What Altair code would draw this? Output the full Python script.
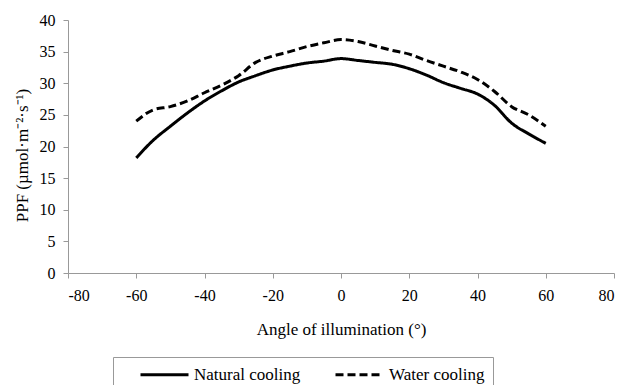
import altair as alt
import pandas as pd

angles = [-60, -55, -50, -45, -40, -35, -30, -25, -20, -15, -10, -5, 0,
          5, 10, 15, 20, 25, 30, 35, 40, 45, 50, 55, 60]
natural = [18.2, 21.0, 23.2, 25.3, 27.2, 28.8, 30.2, 31.2, 32.1, 32.7, 33.2, 33.5, 33.9,
           33.6, 33.3, 33.0, 32.3, 31.3, 30.1, 29.2, 28.3, 26.5, 23.7, 22.0, 20.5]
water = [24.0, 25.8, 26.3, 27.2, 28.5, 29.7, 31.2, 33.3, 34.3, 35.0, 35.8, 36.4, 36.9,
         36.6, 35.9, 35.2, 34.6, 33.6, 32.7, 31.8, 30.6, 28.7, 26.3, 25.0, 23.2]
series = ["Natural cooling", "Water cooling"]

rows = []
for a, n, w in zip(angles, natural, water):
    rows.append({"angle": a, "ppf": n, "series": series[0]})
    rows.append({"angle": a, "ppf": w, "series": series[1]})
df = pd.DataFrame(rows)

FONT = "Times New Roman, Liberation Serif, serif"
GRAY = "#999999"

chart = alt.Chart(df).mark_line(strokeWidth=3, interpolate="monotone", color="black").encode(
    x=alt.X("angle:Q",
            scale=alt.Scale(domain=[-80, 80], nice=False),
            axis=alt.Axis(values=list(range(-80, 81, 20)), title="Angle of illumination (°)",
                          labelExpr="'' + datum.value",
                          grid=False, domainColor=GRAY, tickColor=GRAY, tickSize=5,
                          labelPadding=9, titlePadding=18)),
    y=alt.Y("ppf:Q",
            scale=alt.Scale(domain=[0, 40], nice=False),
            axis=alt.Axis(values=list(range(0, 41, 5)), title="PPF (µmol·m⁻²·s⁻¹)",
                          labelExpr="'' + datum.value",
                          grid=False, domainColor=GRAY, tickColor=GRAY, tickSize=5,
                          labelPadding=8, titleX=-46, titleY=135, titleBaseline="middle")),
    strokeDash=alt.StrokeDash("series:N",
                              scale=alt.Scale(domain=series, range=[[1, 0], [8, 4]]),
                              legend=alt.Legend(title=None, orient="none", legendX=45, legendY=337,
                                                direction="horizontal", columns=2,
                                                symbolType="M-3,0H3", symbolSize=256,
                                                symbolStrokeWidth=3, symbolStrokeColor="black",
                                                symbolOffset=34, labelOffset=20, columnPadding=15,
                                                padding=8, strokeColor=GRAY,
                                                labelExpr="datum.label + '\u00a0\u00a0\u00a0\u00a0\u00a0'")),
).properties(
    width=546, height=253,
    autosize=alt.AutoSizeParams(type="none"),
    padding={"left": 68, "top": 20, "right": 12, "bottom": 112},
).configure_view(
    stroke=None
).configure_axis(
    labelFont=FONT, titleFont=FONT, labelFontSize=16, titleFontSize=17,
    labelColor="black", titleColor="black", titleFontWeight="normal",
).configure_legend(
    labelFont=FONT, labelFontSize=17, labelColor="black",
)

chart.save("out.html", embed_options={"renderer": "svg", "actions": False})
